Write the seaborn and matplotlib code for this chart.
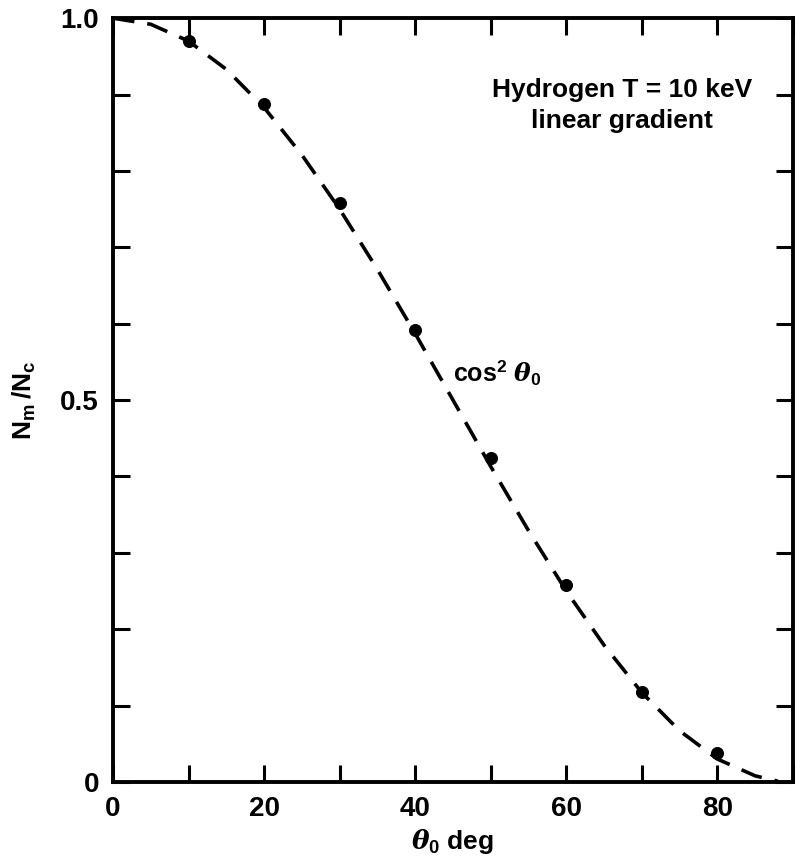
import numpy as np
import pandas as pd
import matplotlib
matplotlib.use("Agg")
import matplotlib.pyplot as plt
import seaborn as sns

sns.set_style("ticks", {'axes.edgecolor': 'black', 'text.color': 'black',
                        'xtick.color': 'black', 'ytick.color': 'black',
                        'axes.labelcolor': 'black'})
plt.rcParams['font.family'] = ['Liberation Sans', 'DejaVu Sans']
plt.rcParams['font.weight'] = 'bold'
plt.rcParams['mathtext.fontset'] = 'custom'
plt.rcParams['mathtext.rm'] = 'Liberation Sans:bold'
plt.rcParams['mathtext.bf'] = 'Liberation Sans:bold'
plt.rcParams['mathtext.it'] = 'DejaVu Serif:italic'

# measured points
theta_pts = [10, 20, 30, 40, 50, 60, 70, 80]
ratio_pts = [0.970, 0.887, 0.758, 0.592, 0.424, 0.258, 0.118, 0.038]

# dashed cos^2 curve
theta_curve = [0, 5, 10, 15, 20, 25, 30, 35, 40, 45, 50, 55, 60, 65, 70, 75, 80, 85, 88]
ratio_curve = [1.0, 0.992, 0.970, 0.933, 0.883, 0.821, 0.750, 0.671, 0.587, 0.500,
               0.413, 0.329, 0.250, 0.179, 0.117, 0.067, 0.030, 0.008, 0.001]

pts = pd.DataFrame({'theta': theta_pts, 'ratio': ratio_pts})
curve = pd.DataFrame({'theta': theta_curve, 'ratio': ratio_curve})

fig = plt.figure(figsize=(8.03, 8.65), dpi=100)
ax = fig.add_axes([0.1407, 0.096, 0.8468, 0.883])

sns.lineplot(data=curve, x='theta', y='ratio', ax=ax, color='black',
             linewidth=2.6, dashes=[(6, 3.6)], style=[0] * len(curve), legend=False)
sns.scatterplot(data=pts, x='theta', y='ratio', ax=ax, color='black', s=75,
                edgecolor='black', zorder=5)

ax.set_xlim(0, 90)
ax.set_ylim(0, 1.0)
ax.set_xticks(np.arange(0, 91, 10))
ax.set_xticklabels(['0', '', '20', '', '40', '', '60', '', '80', ''])
ax.set_yticks(np.arange(0, 1.01, 0.1))
ax.set_yticklabels(['0', '', '', '', '', '0.5', '', '', '', '', '1.0'])
ax.tick_params(direction='in', length=12, width=2.2, top=True, right=True,
               labelsize=20)
ax.tick_params(axis='x', pad=10)
ax.tick_params(axis='y', pad=10)
for lab in ax.get_xticklabels() + ax.get_yticklabels():
    lab.set_fontweight('bold')
for sp in ax.spines.values():
    sp.set_linewidth(2.8)

ax.set_xlabel(r'$\theta_\mathbf{0}$ deg', fontsize=19, fontweight='bold', labelpad=4)
ax.set_ylabel(r'$\mathbf{N_m\,/N_c}$', fontsize=19, fontweight='bold', labelpad=16)

ax.text(67.4, 0.8966, 'Hydrogen T = 10 keV', ha='center', va='baseline',
        fontsize=19, fontweight='bold')
ax.text(67.4, 0.856, 'linear gradient', ha='center', va='baseline',
        fontsize=19, fontweight='bold')
ax.text(45.0, 0.5236, r'cos$^\mathbf{2}$ $\theta_\mathbf{0}$', ha='left', va='baseline',
        fontsize=18, fontweight='bold')

fig.savefig('out.png', dpi=100)
